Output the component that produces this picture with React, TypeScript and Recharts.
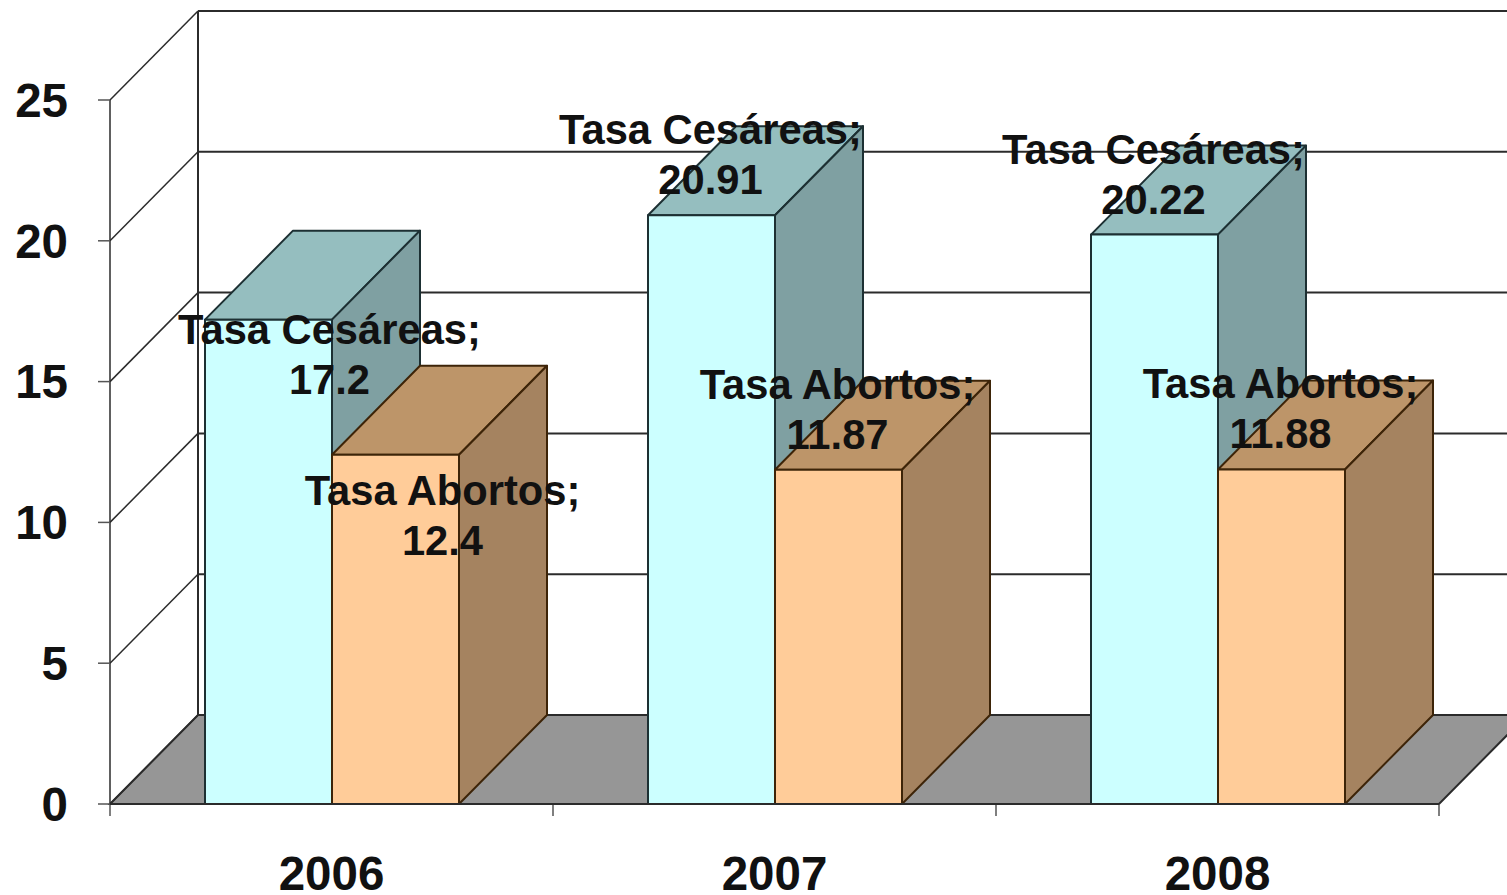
import React from 'react';
import { BarChart, Bar, XAxis, YAxis, LabelList, usePlotArea } from 'recharts';

const YEARS = ['2006', '2007', '2008'];
const CESAREAS = [17.2, 20.91, 20.22];
const ABORTOS = [12.4, 11.87, 11.88];
const Y_TICKS = [0, 5, 10, 15, 20, 25];

const rows = YEARS.map((year, i) => ({ year, cesareas: CESAREAS[i], abortos: ABORTOS[i] }));

const FONT = '"Liberation Sans", Arial, sans-serif';
const INK = '#111111';
const LINE = '#2b2b2b';
const FLOOR = '#969696';
const DEPTH_X = 88;
const DEPTH_Y = 89;
const Y_MAX = 25;

// the first year's labels were dragged off their default spot in the original
const DEFAULT_LABEL = { dx: -1, dy: -85 };
const CESAREAS_2006_LABEL = { dx: 61, dy: 10 };
const ABORTOS_2006_LABEL = { dx: 47, dy: 36 };

function Walls() {
  const plot = usePlotArea();
  if (!plot) return null;
  const { x, y, width, height } = plot;
  const bottom = y + height;
  const right = x + width;
  const yOf = (v: number) => bottom - (v / Y_MAX) * height;
  const bandTicks = [0, 1, 2, 3].map((i) => x + (i * width) / YEARS.length);
  return (
    <g>
      <polygon
        points={`${x},${bottom} ${x + DEPTH_X},${bottom - DEPTH_Y} ${right + DEPTH_X},${bottom - DEPTH_Y} ${right},${bottom}`}
        fill={FLOOR}
        stroke={LINE}
        strokeWidth={2}
      />
      <line x1={x + DEPTH_X} y1={y - DEPTH_Y} x2={x + DEPTH_X} y2={bottom - DEPTH_Y} stroke={LINE} strokeWidth={2} />
      <line x1={x} y1={y} x2={x} y2={bottom} stroke={LINE} strokeWidth={1.5} />
      {Y_TICKS.map((t) => (
        <g key={t}>
          <line x1={x} y1={yOf(t)} x2={x + DEPTH_X} y2={yOf(t) - DEPTH_Y} stroke={LINE} strokeWidth={1.5} />
          <line x1={x + DEPTH_X} y1={yOf(t) - DEPTH_Y} x2={right + DEPTH_X} y2={yOf(t) - DEPTH_Y} stroke={LINE} strokeWidth={2} />
        </g>
      ))}
      {bandTicks.map((tx) => (
        <line key={tx} x1={tx} y1={bottom} x2={tx} y2={bottom + 12} stroke="#555" strokeWidth={1.5} />
      ))}
    </g>
  );
}

function makeBox(front: string, top: string, side: string, edge: string) {
  return function Box({ x, y, width, height }: any) {
    const r = x + width;
    const b = y + height;
    return (
      <g stroke={edge} strokeWidth={2} strokeLinejoin="round">
        <polygon points={`${x},${y} ${x + DEPTH_X},${y - DEPTH_Y} ${r + DEPTH_X},${y - DEPTH_Y} ${r},${y}`} fill={top} />
        <polygon points={`${r},${y} ${r + DEPTH_X},${y - DEPTH_Y} ${r + DEPTH_X},${b - DEPTH_Y} ${r},${b}`} fill={side} />
        <rect x={x} y={y} width={width} height={height} fill={front} />
      </g>
    );
  };
}

function makeLabel(name: string, first: { dx: number; dy: number }) {
  return function BoxLabel({ x, y, width, value, index }: any) {
    const shift = index === 0 ? first : DEFAULT_LABEL;
    const cx = x + width / 2 + shift.dx;
    const cy = y + shift.dy;
    const style = { fontFamily: FONT, fontSize: 41.7, fontWeight: 700, fill: INK };
    return (
      <g>
        <text x={cx} y={cy} dy={14} textAnchor="middle" style={style}>{name}</text>
        <text x={cx} y={cy + 50} dy={14} textAnchor="middle" style={style}>{value}</text>
      </g>
    );
  };
}

const CesareaBox = makeBox('#CCFFFF', '#95BEBF', '#7FA0A2', '#1d3033');
const AbortoBox = makeBox('#FFCC99', '#BD9569', '#A58360', '#3d2408');

export default function App() {
  return (
    <div style={{ position: 'absolute', left: 0, top: 0, width: 1507, height: 895, overflow: 'hidden', background: '#fff' }}>
      <BarChart
        width={1507}
        height={895}
        data={rows}
        margin={{ top: 100, right: 68, bottom: 0, left: 0 }}
        barCategoryGap={95}
        barGap={0}
      >
        <Walls />
        <XAxis
          dataKey="year"
          height={91}
          tickLine={false}
          tickMargin={46}
          axisLine={{ stroke: LINE, strokeWidth: 2 }}
          tick={{ fontFamily: FONT, fontSize: 47.5, fontWeight: 700, fill: INK }}
        />
        <YAxis
          width={110}
          domain={[0, Y_MAX]}
          ticks={Y_TICKS}
          tickSize={12}
          tickMargin={30}
          axisLine={false}
          tickLine={{ stroke: '#555', strokeWidth: 1.5 }}
          tick={{ fontFamily: FONT, fontSize: 47.5, fontWeight: 700, fill: INK }}
        />
        <Bar dataKey="cesareas" shape={<CesareaBox />} isAnimationActive={false}>
          <LabelList dataKey="cesareas" content={makeLabel('Tasa Cesáreas;', CESAREAS_2006_LABEL)} />
        </Bar>
        <Bar dataKey="abortos" shape={<AbortoBox />} isAnimationActive={false}>
          <LabelList dataKey="abortos" content={makeLabel('Tasa Abortos;', ABORTOS_2006_LABEL)} />
        </Bar>
      </BarChart>
    </div>
  );
}
